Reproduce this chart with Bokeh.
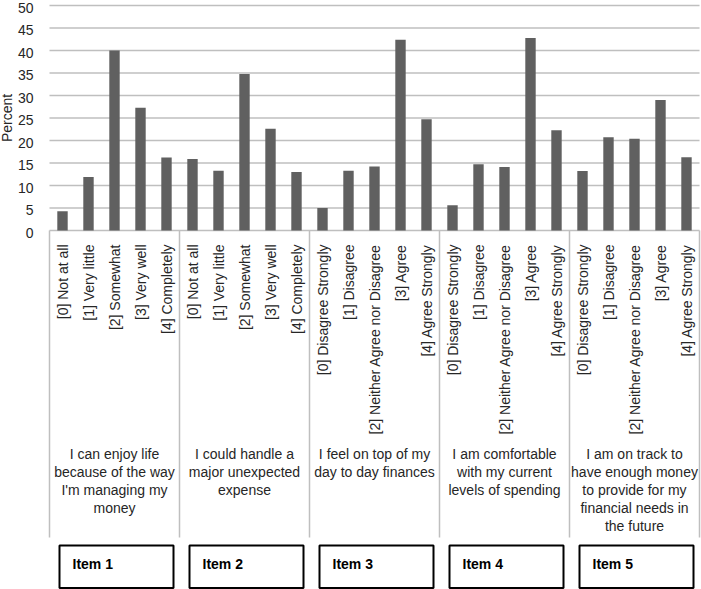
import math
from bokeh.plotting import figure
from bokeh.models import ColumnDataSource, Range1d
from bokeh.core.properties import value
from bokeh.embed import file_html
from bokeh.resources import INLINE

# ---- data ----
items = ["Item 1", "Item 2", "Item 3", "Item 4", "Item 5"]
statements = [
    "I can enjoy life\nbecause of the way\nI'm managing my\nmoney",
    "I could handle a\nmajor unexpected\nexpense",
    "I feel on top of my\nday to day finances",
    "I am comfortable\nwith my current\nlevels of spending",
    "I am on track to\nhave enough money\nto provide for my\nfinancial needs in\nthe future",
]
scale_a = ["[0] Not at all", "[1] Very little", "[2] Somewhat", "[3] Very well", "[4] Completely"]
scale_b = ["[0] Disagree Strongly", "[1] Disagree", "[2] Neither Agree nor Disagree",
           "[3] Agree", "[4] Agree Strongly"]
item1 = [4.3, 11.9, 40.0, 27.3, 16.2]
item2 = [15.9, 13.3, 34.8, 22.6, 13.0]
item3 = [5.0, 13.3, 14.2, 42.4, 24.7]
item4 = [5.6, 14.7, 14.1, 42.8, 22.3]
item5 = [13.2, 20.7, 20.4, 29.0, 16.3]
y_ticks = [0, 5, 10, 15, 20, 25, 30, 35, 40, 45, 50]
y_title = "Percent"

series = [item1, item2, item3, item4, item5]
cat_labels = [scale_a, scale_a, scale_b, scale_b, scale_b]

# ---- layout helpers (pixel rows/cols -> data space) ----
W, H = 701, 589
LEFT = 49          # left edge of the bar area (px)
SLOT = 26.0        # px per category slot
PX_PER_UNIT = 4.5  # px per percent
ZERO_PX = 230      # pixel row of the zero line

def X(px):
    return (px - LEFT) / SLOT

def Y(py):
    return (ZERO_PX - py) / PX_PER_UNIT

FONT = value("Liberation Sans")
FS = value("14px")
TXT = "#262626"
GRID = "#bfbfbf"
BAR = "#606060"
N = 5 * len(series)

p = figure(width=W, height=H, output_backend="svg", toolbar_location=None,
           x_range=Range1d(X(0), X(W)), y_range=Range1d(Y(H), Y(0)),
           x_axis_location=None, y_axis_location=None,
           min_border_left=0, min_border_right=0,
           min_border_top=0, min_border_bottom=0)
p.outline_line_color = None
p.xgrid.grid_line_color = None
p.ygrid.grid_line_color = None

# horizontal grid lines and y tick labels
p.segment(x0=[0] * len(y_ticks), y0=y_ticks, x1=[N] * len(y_ticks), y1=y_ticks,
          line_color=GRID, line_width=1.5)
p.text(x=[X(33)] * len(y_ticks), y=y_ticks, text=[str(t) for t in y_ticks],
       text_align="right", text_baseline="middle", y_offset=2,
       text_font=FONT, text_font_size=FS, text_color=TXT)
p.text(x=[X(6)], y=[(y_ticks[0] + y_ticks[-1]) / 2], text=[y_title],
       angle=math.pi / 2, text_align="center", text_baseline="middle",
       text_font=FONT, text_font_size=FS, text_color=TXT)

# bars
xs, tops, labs = [], [], []
for g, vals in enumerate(series):
    for k, v in enumerate(vals):
        xs.append(g * 5 + k + 0.5)
        tops.append(v)
        labs.append(cat_labels[g][k])
src = ColumnDataSource(dict(x=xs, top=tops, lab=labs))
p.vbar(x="x", top="top", bottom=0, width=0.4, source=src,
       fill_color=BAR, line_color=None)

# group separators
sep_x = [g * 5 for g in range(len(series) + 1)]
p.segment(x0=sep_x, y0=[0] * len(sep_x), x1=sep_x, y1=[Y(537)] * len(sep_x),
          line_color=GRID, line_width=1.5)

# category labels (rotated)
p.text(x="x", y=Y(244), text="lab", source=src, angle=math.pi / 2,
       text_align="right", text_baseline="middle",
       text_font=FONT, text_font_size=FS, text_color=TXT)

# statements and item boxes
gsrc = ColumnDataSource(dict(
    x=[g * 5 + 2.5 for g in range(5)],
    t=statements,
    bl=[g * 5 + X(59) for g in range(5)],
    br=[g * 5 + X(173) for g in range(5)],
    ix=[g * 5 + X(72) for g in range(5)],
    it=items,
))
p.text(x="x", y=Y(445.5), text="t", source=gsrc, text_align="center",
       text_baseline="top", text_line_height=1.13,
       text_font=FONT, text_font_size=FS, text_color=TXT)

p.quad(left="bl", right="br", top=Y(545), bottom=Y(587.5), source=gsrc,
       fill_color=None, line_color="black", line_width=2)
p.text(x="ix", y=Y(563), text="it", source=gsrc, text_align="left",
       text_baseline="middle", text_font=FONT, text_font_size=FS,
       text_font_style="bold", text_color="black")

open("out.html", "w").write(file_html(p, INLINE))
